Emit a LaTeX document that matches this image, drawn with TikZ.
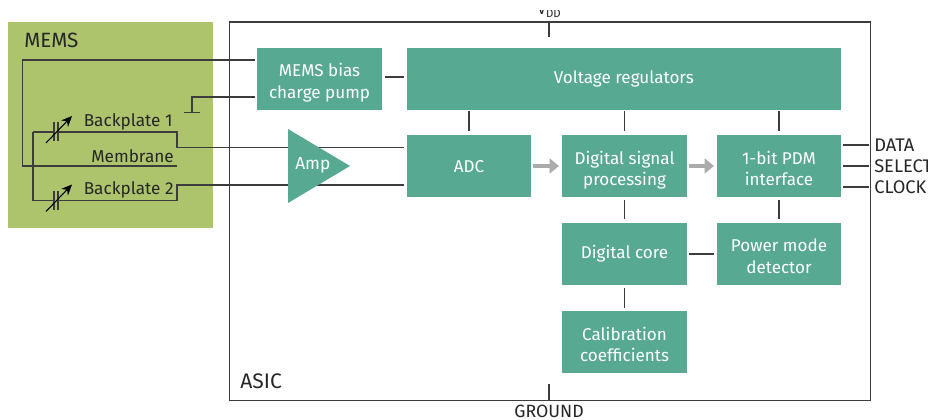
\documentclass[tikz,border=0pt]{standalone}
\usepackage{fontspec}
\setmainfont{Fira Sans}
\usetikzlibrary{arrows.meta}
\definecolor{tealbox}{HTML}{58A992}
\definecolor{memsgreen}{HTML}{ADC46C}
\definecolor{wire}{HTML}{3C3C3C}
\definecolor{flow}{HTML}{ABABAB}
\tikzset{
  x=0.75pt,y=-0.75pt,
  box/.style={fill=tealbox,draw=none,minimum width=#1*0.75pt,minimum height=62*0.75pt,text=white,font=\fontsize{12.8}{16.5}\selectfont,align=center,inner sep=0pt,anchor=north west},
  box/.default=124.5,
  lbl/.style={text=black!85,font=\fontsize{12.9}{14}\selectfont,inner sep=0pt},
  thin wire/.style={draw=wire,line width=0.9pt},
  flowar/.style={draw=flow,line width=2.4pt,-{Triangle[length=7pt,width=11pt]}},
  varrow/.style={draw=black,line width=0.8pt,-{Stealth[length=8pt,width=7pt]}}
}
\newcommand{\lowered}[1]{\raisebox{-6.2pt}[0pt][0pt]{\begin{tabular}{@{}c@{}}#1\end{tabular}}}
\setlength{\tabcolsep}{0pt}
\begin{document}
\begin{tikzpicture}
\useasboundingbox (0,0) rectangle (928,420);
% MEMS panel
\fill[memsgreen] (7.5,22) rectangle (212.5,228);
\node[lbl,anchor=west,font=\fontsize{15.5}{17}\selectfont] (memst) at (24,40) {MEMS};
% ASIC
\node[draw=wire,line width=0.8pt,minimum width=640.5*0.75pt,minimum height=378*0.75pt,anchor=north west,inner sep=0pt] (asic) at (229,21.5) {};
\node[lbl,anchor=west,font=\fontsize{15.8}{17}\selectfont] (asict) at (240,381) {ASIC};
% boxes
\node[box] (pump) at (257,47.5) {\lowered{MEMS bias\\[-0.5pt]charge pump}};
\node[box=434] (vreg) at (406.5,47.5) {Voltage regulators};
\node[box] (adc) at (406.5,135) {ADC};
\node[box] (dsp) at (562,135) {\lowered{Digital signal\\[-0.5pt]processing}};
\node[box] (pdm) at (716.5,135) {\lowered{1-bit PDM\\[-0.5pt]interface}};
\node[box] (core) at (562,222.5) {Digital core};
\node[box] (pmd) at (716.5,222.5) {\lowered{Power mode\\[-0.5pt]detector}};
\node[box] (cal) at (562,311) {\lowered{Calibration\\[-0.5pt]coefficients}};
% coordinates
\coordinate (vddtop) at (549,21.5);
\coordinate (vddend) at (549,37);
\coordinate (gndtop) at (549,384);
\coordinate (gndend) at (549,399.5);
% wires MEMS
\draw[thin wire] (255,60) -- (22.5,60) -- (22.5,166) -- (177,166);
\draw[thin wire] (255,97) -- (192,97) -- (192,112.5);
\draw[thin wire] (184,112.5) -- (200,112.5);
\draw[thin wire] (33,132) -- (177,132) -- (177,147.3) -- (404,147.3);
\draw[thin wire] (33,132) -- (33,200.5) -- (177,200.5) -- (177,185) -- (404,185);
% capacitors
\foreach \y/\n in {132/a,200.5/b}{
  \fill[memsgreen] (54.5,\y-2) rectangle (57.5,\y+2);
  \draw[thin wire] (54,\y-9.5) -- (54,\y+9.5);
  \draw[thin wire] (58,\y-9.5) -- (58,\y+9.5);
  \draw[varrow] (46,\y+11) -- (72,\y-16);
}
\node[lbl,anchor=west] (b1) at (83.5,121.5) {Backplate 1};
\node[lbl,anchor=west] (mem) at (91,156) {Membrane};
\node[lbl,anchor=west] (b2) at (83.5,190) {Backplate 2};
% amp
\path[fill=tealbox] (288,129) -- (350,166) -- (288,203) -- cycle;
\node[text=white,font=\fontsize{13}{15}\selectfont,inner sep=0pt,anchor=west] (ampt) at (295,165) {Amp};
% verticals
\draw[thin wire] (vddtop) -- (vddend);
\draw[thin wire] (gndtop) -- (gndend);
\draw[thin wire] (385,77) -- (404,77);
\draw[thin wire] (469,111.5) -- (469,131);
\draw[thin wire] (624.5,111.5) -- (624.5,131);
\draw[thin wire] (779,111.5) -- (779,131);
\draw[thin wire] (624.5,200) -- (624.5,219.5);
\draw[thin wire] (779,200) -- (779,219.5);
\draw[thin wire] (624.5,288) -- (624.5,308);
\draw[thin wire] (689,254) -- (714,254);
% flow arrows
\draw[flowar] (533,166) -- (559,166);
\draw[flowar] (689,166) -- (714,166);
% outputs
\draw[thin wire] (843,145) -- (869,145);
\draw[thin wire] (843,166) -- (869,166);
\draw[thin wire] (843,187) -- (869,187);
\node[lbl,anchor=west,font=\fontsize{13.7}{15}\selectfont] (data) at (874,145.5) {DATA};
\node[lbl,anchor=west,font=\fontsize{13.7}{15}\selectfont] (sel) at (874,166.5) {SELECT};
\node[lbl,anchor=west,font=\fontsize{13.7}{15}\selectfont] (clk) at (874,187.5) {CLOCK};
\node[lbl,anchor=center,font=\fontsize{13.3}{15}\selectfont] (gnd) at (549,411.5) {GROUND};
% clipped VDD
\begin{scope}
\clip (530,10.5) rectangle (570,20);
\node[lbl,anchor=base west,font=\fontsize{12}{13}\selectfont] (vdd) at (537,14.5) {V\raisebox{-2.2pt}{\fontsize{8.5}{9}\selectfont DD}};
\end{scope}
\end{tikzpicture}
\end{document}
